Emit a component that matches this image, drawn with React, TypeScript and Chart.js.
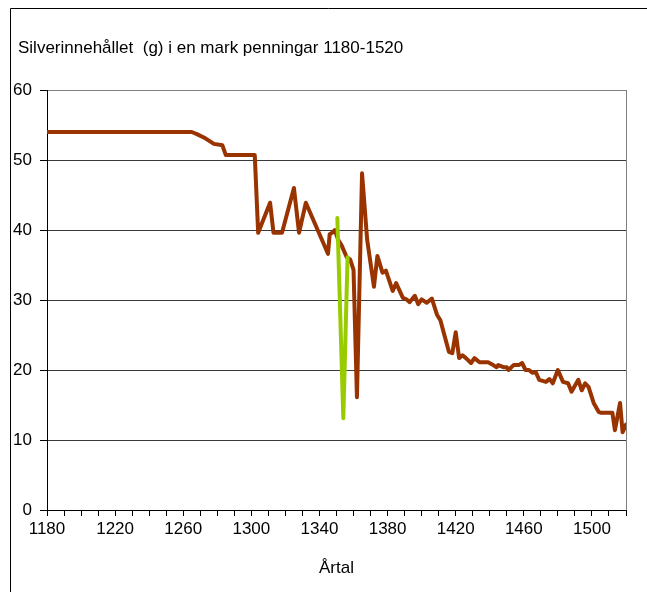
import React, { useEffect, useRef } from "react";
import { Chart, registerables } from "chart.js";

Chart.register(...registerables);

const chartTitle = "Silverinnehållet  (g) i en mark penningar 1180-1520";
const xAxisTitle = "Årtal";

const mainYears = [
  1180, 1265, 1268, 1273, 1278, 1283, 1285, 1302, 1304, 1311, 1313, 1318, 1325, 1328,
  1332, 1345, 1346, 1348, 1349, 1351, 1353, 1356, 1358, 1360, 1362, 1365, 1368, 1372,
  1374, 1377, 1379, 1383, 1385, 1389, 1391, 1393, 1396, 1398, 1400, 1403, 1406, 1409,
  1411, 1416, 1418, 1420, 1422, 1424, 1426, 1429, 1431, 1434, 1439, 1442, 1444, 1445,
  1448, 1450, 1451, 1454, 1457, 1459, 1461, 1463, 1465, 1467, 1469, 1473, 1475, 1477,
  1480, 1483, 1486, 1488, 1492, 1494, 1496, 1498, 1501, 1504, 1505, 1512, 1513.5,
  1516.5, 1518, 1520,
];
const mainValues = [
  54, 54, 53.7, 53.1, 52.3, 52.1, 50.7, 50.7, 39.6, 43.9, 39.6, 39.6, 46, 39.6,
  43.9, 36.6, 39.4, 39.7, 40.0, 38.6, 37.8, 36.1, 35.8, 34.3, 16.1, 48.1, 38.6, 31.9,
  36.3, 33.9, 34.2, 31.3, 32.4, 30.3, 30.1, 29.7, 30.6, 29.4, 30.1, 29.6, 30.2, 27.9,
  27.1, 22.6, 22.4, 25.4, 21.7, 22.1, 21.7, 21.0, 21.7, 21.1, 21.1, 20.7, 20.4, 20.7,
  20.4, 20.4, 20.0, 20.7, 20.7, 21.0, 20.0, 20.0, 19.6, 19.7, 18.6, 18.3, 18.7, 18.1,
  20.0, 18.3, 18.1, 16.9, 18.6, 17.1, 18.1, 17.6, 15.3, 14.0, 13.9, 13.9, 11.4,
  15.3, 11.1, 12.2,
];

const greenYears = [1350.5, 1354, 1356.5];
const greenValues = [41.7, 13.1, 36.1];

const xMin = 1180;
const xMax = 1520;
const xMinorStep = 10;
const xLabelStep = 40;
const yMin = 0;
const yMax = 60;
const yStep = 10;

const FONT = "'Liberation Sans', Arial, sans-serif";
const FS = 17;

export default function App() {
  const canvasRef = useRef<HTMLCanvasElement | null>(null);

  useEffect(() => {
    const canvas = canvasRef.current;
    if (!canvas) return;

    const framePlugin = {
      id: "frame",
      beforeDraw(chart: any) {
        const ctx = chart.ctx;
        ctx.save();
        ctx.fillStyle = "#ffffff";
        ctx.fillRect(0, 0, chart.width, chart.height);
        ctx.strokeStyle = "#000000";
        ctx.lineWidth = 1;
        ctx.beginPath();
        ctx.moveTo(10.5, chart.height);
        ctx.lineTo(10.5, 8.5);
        ctx.lineTo(chart.width, 8.5);
        ctx.stroke();
        ctx.fillStyle = "#000000";
        ctx.font = `${FS}px ${FONT}`;
        ctx.textBaseline = "middle";
        ctx.textAlign = "left";
        ctx.fillText(chartTitle, 18, 48);
        ctx.restore();
      },
      beforeDatasetsDraw(chart: any) {
        const { ctx, chartArea } = chart;
        ctx.save();
        ctx.strokeStyle = "#808080";
        ctx.lineWidth = 1;
        ctx.beginPath();
        const r = Math.round(chartArea.right) + 0.5;
        ctx.moveTo(r, chartArea.top);
        ctx.lineTo(r, chartArea.bottom);
        ctx.stroke();
        ctx.restore();
      },
    };

    const chart = new Chart(canvas, {
      type: "scatter",
      data: {
        datasets: [
          {
            data: mainYears.map((x, i) => ({ x, y: mainValues[i] })),
            showLine: true,
            borderColor: "#993300",
            backgroundColor: "#993300",
            borderWidth: 4,
            pointRadius: 0,
            borderJoinStyle: "round",
            borderCapStyle: "round",
            order: 2,
          },
          {
            data: greenYears.map((x, i) => ({ x, y: greenValues[i] })),
            showLine: true,
            borderColor: "#99cc00",
            backgroundColor: "#99cc00",
            borderWidth: 4,
            pointRadius: 0,
            borderJoinStyle: "round",
            borderCapStyle: "round",
            order: 1,
          },
        ],
      },
      options: {
        responsive: false,
        animation: false,
        devicePixelRatio: 1,
        layout: { padding: { top: 90, right: 21, left: 0, bottom: 0 } },
        plugins: {
          legend: { display: false },
          tooltip: { enabled: false },
        },
        scales: {
          x: {
            type: "linear",
            min: xMin,
            max: xMax,
            afterFit(scale: any) {
              scale.height = 82;
            },
            ticks: {
              stepSize: xMinorStep,
              autoSkip: false,
              maxRotation: 0,
              minRotation: 0,
              padding: 3,
              color: "#000000",
              font: { family: FONT, size: FS },
              callback: (v: any) => ((Number(v) - xMin) % xLabelStep === 0 && Number(v) < xMax ? String(v) : ""),
            },
            grid: {
              drawOnChartArea: false,
              drawTicks: true,
              tickLength: 6,
              tickColor: "#000000",
              color: "#000000",
            },
            border: { display: true, color: "#000000", width: 1 },
            title: {
              display: true,
              text: xAxisTitle,
              color: "#000000",
              font: { family: FONT, size: FS },
              padding: { top: 0, bottom: 13 },
            },
          },
          y: {
            type: "linear",
            min: yMin,
            max: yMax,
            afterFit(scale: any) {
              scale.width = 47;
            },
            ticks: {
              stepSize: yStep,
              padding: 8,
              color: "#000000",
              font: { family: FONT, size: FS },
            },
            grid: {
              drawOnChartArea: true,
              drawTicks: true,
              tickLength: 7,
              tickColor: "#000000",
              color: (c: any) => (c.tick && c.tick.value === yMax ? "#808080" : "#3a3a3a"),
              lineWidth: 1,
            },
            border: { display: true, color: "#000000", width: 1 },
          },
        },
      },
      plugins: [framePlugin],
    } as any);

    return () => {
      chart.destroy();
    };
  }, []);

  return (
    <div style={{ position: "fixed", left: 0, top: 0, width: 647, height: 592, background: "#fff" }}>
      <canvas ref={canvasRef} width={647} height={592} style={{ display: "block", width: 647, height: 592 }} />
    </div>
  );
}
